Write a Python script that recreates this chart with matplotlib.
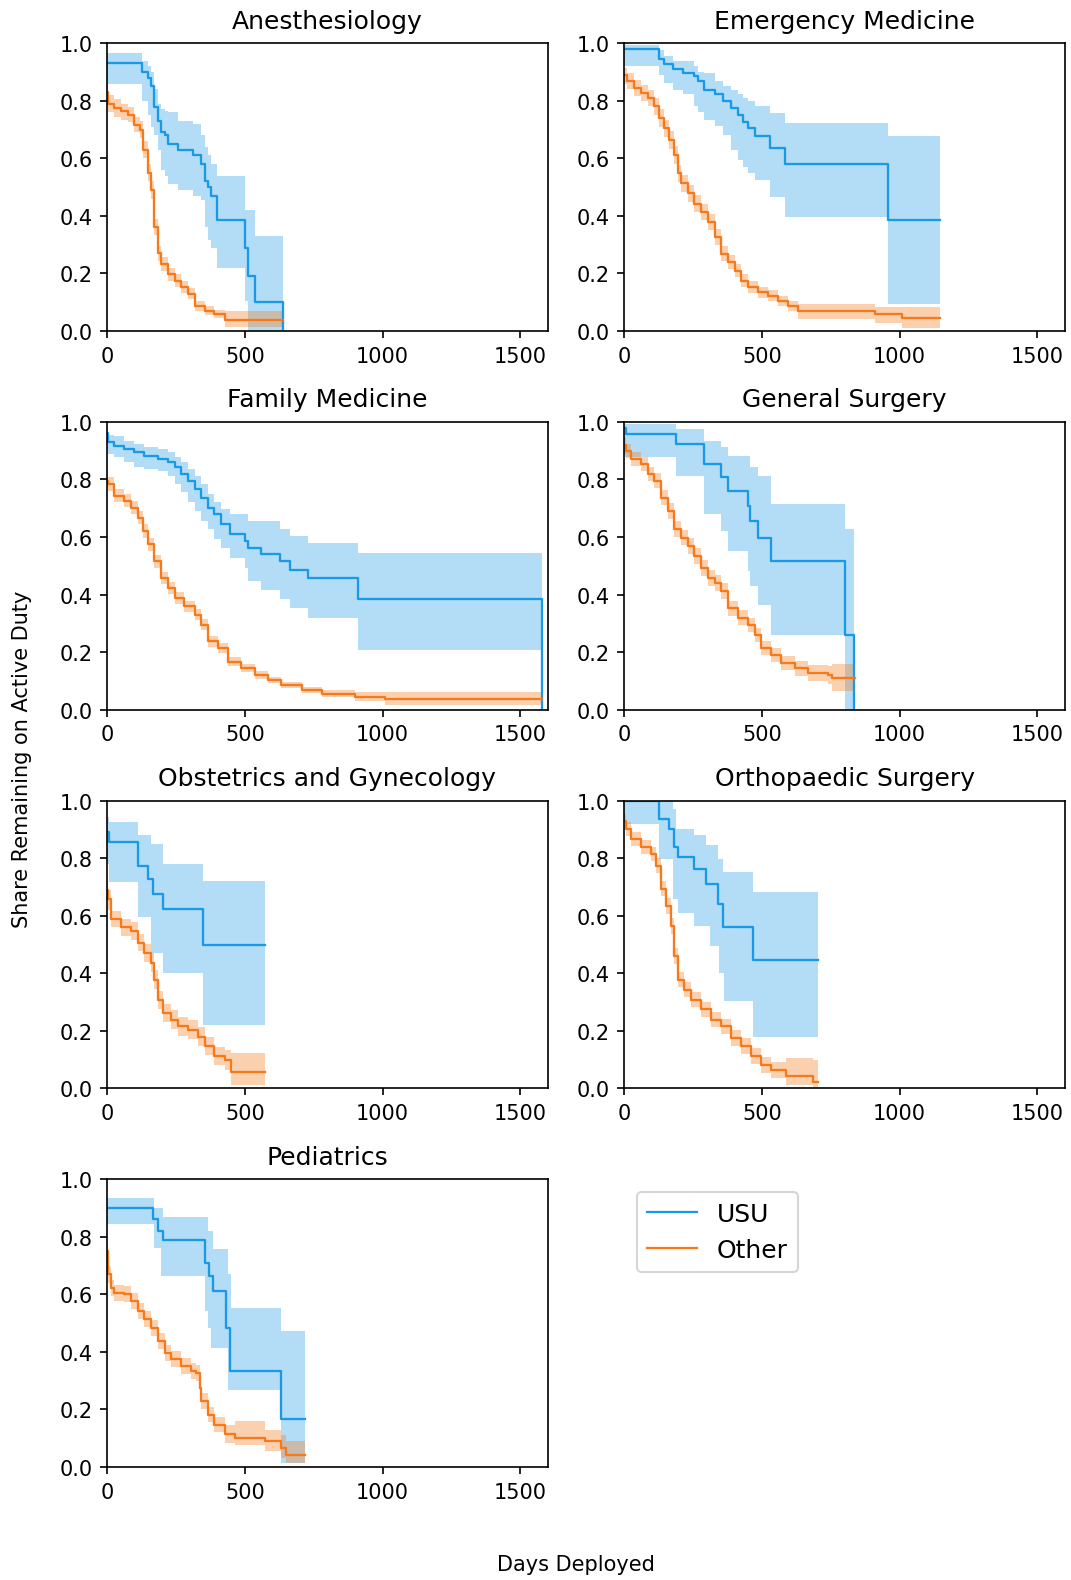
import numpy as np
import matplotlib.pyplot as plt

titles = ['Anesthesiology', 'Emergency Medicine', 'Family Medicine', 'General Surgery',
          'Obstetrics and Gynecology', 'Orthopaedic Surgery', 'Pediatrics']

# rows: (day, survival, lower CI, upper CI)
anes_usu = [(0, .93, .86, .965), (126, .90, .80, .94), (148, .88, .75, .92), (160, .85, .71, .90),
            (172, .78, .68, .84), (184, .73, .63, .79), (196, .69, .56, .77), (209, .68, .54, .765),
            (221, .65, .51, .76), (257, .63, .49, .73), (312, .61, .47, .72), (342, .58, .455, .68),
            (354, .52, .36, .64), (366, .50, .315, .61), (378, .47, .29, .58), (400, .385, .22, .54),
            (502, .29, .105, .42), (512, .19, 0.0, .42), (536, .10, 0.0, .33), (639, 0, 0, 0)]
anes_oth = [(0, .83, .79, .86), (5, .79, .76, .82), (27, .775, .745, .805), (51, .763, .735, .79),
            (75, .752, .725, .78), (99, .717, .69, .745), (118, .70, .67, .73), (130, .63, .60, .66),
            (148, .55, .52, .58), (160, .49, .46, .52), (172, .36, .335, .39), (184, .27, .245, .295),
            (196, .233, .21, .257), (221, .198, .175, .22), (245, .175, .153, .197),
            (269, .152, .132, .173), (293, .128, .11, .148), (318, .087, .07, .105),
            (354, .07, .055, .087), (390, .058, .044, .073), (427, .037, .015, .068),
            (639, .037, .015, .068)]

em_usu = [(0, .98, .92, .995), (128, .945, .89, .975), (146, .927, .862, .956), (176, .909, .839, .938),
          (213, .897, .822, .938), (255, .886, .781, .921), (267, .868, .76, .90), (291, .839, .734, .897),
          (328, .822, .711, .868), (358, .798, .682, .85), (389, .775, .629, .839), (413, .752, .594, .822),
          (431, .728, .571, .81), (449, .705, .55, .798), (474, .676, .524, .781), (528, .635, .466, .758),
          (583, .58, .396, .723), (959, .385, .093, .676), (1148, .385, .093, .676)]
em_oth = [(0, .89, .86, .915), (12, .868, .84, .895), (36, .845, .818, .872), (61, .828, .80, .855),
          (85, .81, .782, .838), (109, .781, .752, .81), (128, .74, .71, .77), (146, .705, .675, .735),
          (164, .664, .634, .694), (182, .612, .582, .642), (194, .548, .518, .578), (206, .513, .483, .543),
          (231, .478, .448, .508), (255, .443, .413, .473), (279, .414, .385, .443), (304, .379, .35, .408),
          (328, .326, .298, .354), (352, .268, .242, .294), (376, .239, .214, .264), (401, .21, .186, .234),
          (425, .175, .153, .197), (449, .152, .131, .173), (486, .134, .114, .154), (522, .122, .103, .141),
          (559, .105, .087, .123), (595, .087, .07, .104), (632, .07, .041, .093), (911, .058, .029, .082),
          (1008, .044, .012, .082), (1148, .044, .012, .082)]

fm_usu = [(0, .96, .91, .975), (5, .929, .888, .955), (27, .917, .877, .952), (63, .906, .859, .935),
          (99, .894, .842, .923), (136, .883, .835, .912), (184, .871, .83, .906), (221, .859, .813, .894),
          (245, .842, .784, .877), (269, .819, .755, .859), (293, .795, .72, .836), (318, .766, .691, .813),
          (342, .737, .656, .784), (366, .702, .627, .749), (390, .679, .592, .72), (415, .644, .563, .697),
          (445, .609, .528, .68), (500, .586, .493, .679), (512, .563, .447, .656), (560, .54, .417, .656),
          (627, .516, .383, .627), (663, .487, .353, .603), (730, .458, .319, .58), (912, .383, .208, .545),
          (1580, 0, 0, 0)]
fm_oth = [(0, .795, .77, .82), (5, .784, .76, .81), (27, .743, .72, .767), (63, .726, .703, .749),
          (87, .702, .679, .725), (112, .667, .644, .69), (130, .621, .598, .644), (148, .574, .551, .597),
          (172, .516, .494, .538), (196, .458, .436, .48), (221, .423, .402, .444), (245, .388, .367, .409),
          (281, .359, .339, .379), (318, .33, .31, .35), (342, .295, .276, .314), (366, .237, .219, .255),
          (403, .214, .197, .231), (439, .167, .152, .182), (488, .144, .13, .158), (536, .121, .108, .134),
          (585, .103, .091, .115), (633, .086, .075, .097), (706, .069, .059, .079), (779, .055, .044, .067),
          (900, .045, .03, .062), (1009, .037, .017, .062), (1580, .037, .017, .062)]

gs_usu = [(0, .98, .877, .993), (6, .958, .877, .993), (188, .923, .813, .976), (291, .853, .679, .935),
          (352, .807, .621, .912), (376, .76, .551, .883), (449, .708, .481, .883), (455, .656, .429, .842),
          (486, .598, .365, .813), (534, .516, .26, .714), (802, .26, 0.0, .627), (836, 0, 0, 0)]
gs_oth = [(0, .92, .89, .945), (5, .90, .875, .925), (24, .871, .846, .896), (61, .853, .828, .878),
          (85, .819, .793, .845), (109, .795, .769, .821), (134, .737, .71, .764), (158, .691, .664, .718),
          (182, .627, .6, .654), (206, .598, .571, .625), (231, .569, .542, .596), (255, .534, .507, .561),
          (279, .493, .466, .52), (304, .458, .431, .485), (328, .441, .414, .468), (352, .412, .385, .439),
          (376, .353, .327, .379), (413, .319, .293, .345), (449, .295, .27, .32), (474, .26, .235, .285),
          (498, .214, .19, .238), (534, .191, .167, .215), (571, .162, .138, .186), (619, .144, .118, .17),
          (668, .127, .1, .155), (741, .121, .09, .152), (753, .109, .065, .16), (838, .109, .063, .162)]

ob_usu = [(0, .89, .78, .943), (8, .856, .716, .925), (112, .774, .594, .879), (148, .728, .594, .879),
          (160, .728, .471, .85), (166, .675, .471, .85), (203, .623, .402, .78), (348, .497, .221, .722),
          (572, .497, .221, .722)]
ob_oth = [(0, .69, .65, .72), (3, .658, .62, .69), (15, .588, .56, .615), (51, .559, .53, .588),
          (87, .547, .517, .577), (112, .506, .476, .536), (136, .471, .44, .502), (160, .437, .405, .469),
          (172, .378, .346, .41), (184, .308, .277, .339), (203, .262, .23, .294), (233, .239, .207, .271),
          (257, .215, .183, .247), (293, .204, .172, .236), (330, .18, .148, .212), (354, .146, .115, .177),
          (390, .111, .08, .142), (427, .099, .065, .133), (451, .058, .012, .122), (572, .058, .012, .122)]

os_usu = [(0, 1.0, .92, 1.0), (128, .937, .797, 1.0), (164, .902, .797, 1.0), (176, .902, .658, .972),
          (182, .838, .658, .972), (188, .838, .658, .902), (194, .803, .611, .902), (255, .762, .565, .879),
          (298, .71, .565, .844), (310, .71, .495, .844), (340, .64, .495, .797), (346, .64, .402, .797),
          (358, .562, .402, .751), (364, .562, .303, .751), (468, .446, .18, .681), (704, .446, .18, .681)]
os_oth = [(0, .93, .90, .955), (5, .902, .878, .926), (24, .867, .843, .891), (61, .838, .814, .862),
          (97, .815, .79, .84), (115, .774, .749, .799), (134, .693, .667, .719), (152, .634, .607, .661),
          (170, .565, .538, .592), (182, .46, .433, .487), (194, .378, .351, .405), (219, .343, .316, .37),
          (243, .308, .281, .335), (279, .274, .247, .301), (316, .239, .212, .266), (352, .215, .188, .242),
          (389, .175, .148, .202), (425, .146, .118, .174), (462, .111, .083, .139), (498, .081, .054, .108),
          (534, .064, .037, .091), (589, .043, .012, .105), (686, .023, .003, .10), (704, .023, .003, .10)]

ped_usu = [(0, .90, .843, .936), (166, .861, .843, .936), (172, .861, .762, .90), (184, .82, .762, .90),
           (196, .82, .664, .90), (203, .788, .664, .869), (354, .71, .542, .869), (366, .71, .484, .82),
           (372, .664, .484, .82), (378, .664, .414, .82), (384, .611, .414, .756), (433, .484, .414, .756),
           (439, .484, .269, .669), (445, .335, .269, .669), (451, .335, .269, .553), (633, .168, .014, .472),
           (720, .168, .014, .472)]
ped_oth = [(0, .75, .72, .78), (5, .669, .64, .70), (15, .623, .595, .651), (27, .606, .578, .634),
           (63, .60, .572, .628), (87, .577, .549, .605), (112, .542, .514, .57), (136, .513, .485, .541),
           (160, .484, .456, .512), (184, .437, .409, .465), (209, .397, .369, .425), (233, .374, .346, .402),
           (269, .35, .322, .378), (306, .333, .305, .361), (324, .327, .299, .355), (336, .275, .247, .303),
           (342, .229, .201, .257), (366, .182, .155, .209), (390, .147, .12, .174), (427, .113, .085, .145),
           (463, .101, .078, .159), (572, .089, .055, .13), (633, .066, .03, .11), (651, .043, .014, .089),
           (720, .043, .014, .089)]

panels = [(anes_usu, anes_oth), (em_usu, em_oth), (fm_usu, fm_oth), (gs_usu, gs_oth),
          (ob_usu, ob_oth), (os_usu, os_oth), (ped_usu, ped_oth)]

BLUE = '#1a9ae6'
ORANGE = '#f57a1c'

fig, axes = plt.subplots(4, 2, figsize=(7.14, 10.54), dpi=150)
fig.subplots_adjust(left=0.0999, right=0.9944, top=0.972, bottom=0.0715, wspace=0.173, hspace=0.316)

for ax, title, (usu, oth) in zip(axes.flat, titles, panels):
    for rows, color, label, a in ((usu, BLUE, 'USU', 0.33), (oth, ORANGE, 'Other', 0.35)):
        d = np.array(rows, dtype=float)
        ax.fill_between(d[:, 0], d[:, 2], d[:, 3], step='post', color=color, alpha=a, lw=0)
        ax.plot(d[:, 0], d[:, 1], drawstyle='steps-post', color=color, lw=1.1, label=label)
    ax.set_title(title, pad=7.5)
    ax.set_xlim(0, 1600)
    ax.set_ylim(0, 1)
    ax.set_xticks([0, 500, 1000, 1500])

# empty 8th slot holds the legend
leg_ax = axes[3, 1]
leg_ax.axis('off')
handles, labels = axes[0, 0].get_legend_handles_labels()
leg_ax.legend(handles, labels, loc='upper left', fontsize=12)

fig.text(0.0205, 0.52, 'Share Remaining on Active Duty', rotation=90, ha='center', va='center')
fig.text(0.538, 0.01, 'Days Deployed', ha='center', va='center')

fig.savefig('out.png', dpi=150)
